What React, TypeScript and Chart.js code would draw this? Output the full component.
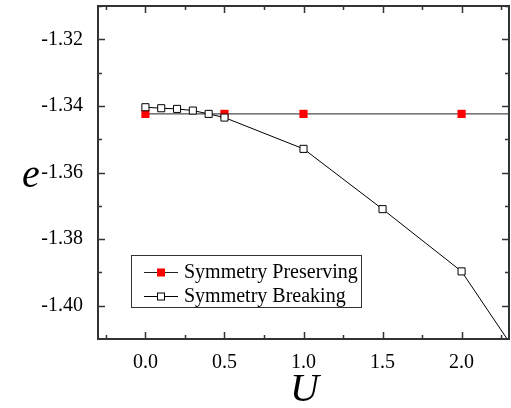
import React, { useEffect, useRef } from "react";
import { Chart, registerables } from "chart.js";

Chart.register(...registerables);

const uPreserving = [0, 0.5, 1.0, 2.0, 2.5];
const ePreserving = [-1.3424, -1.3424, -1.3424, -1.3424, -1.3424];
const uBreaking = [0, 0.1, 0.2, 0.3, 0.4, 0.5, 1.0, 1.5, 2.0, 2.5];
const eBreaking = [-1.3404, -1.3407, -1.3409, -1.3414, -1.3424, -1.3435, -1.3529, -1.371, -1.3897, -1.4249];
const xTicks = [0, 0.5, 1.0, 1.5, 2.0];
const xMinorTicks = [-0.25, 0.25, 0.75, 1.25, 1.75, 2.25];
const yTicks = [-1.4, -1.38, -1.36, -1.34, -1.32];
const yMinorTicks = [-1.41, -1.39, -1.37, -1.35, -1.33, -1.31];
const seriesLabels = ["Symmetry Preserving", "Symmetry Breaking"];
const xTitle = "U";
const yTitle = "e";

const FONT = "Liberation Serif, serif";

const framePlugin = {
  id: "framePlugin",
  afterDraw(chart: any) {
    const { ctx, chartArea: a, scales } = chart;
    const xs = scales.x;
    const ys = scales.y;
    ctx.save();
    ctx.strokeStyle = "#333";
    ctx.lineWidth = 2;
    ctx.strokeRect(a.left, a.top, a.right - a.left, a.bottom - a.top);
    ctx.lineWidth = 1.5;
    const drawX = (vals: number[], len: number) => {
      vals.forEach((v) => {
        const px = Math.round(xs.getPixelForValue(v)) + 0.5;
        if (px < a.left || px > a.right) return;
        ctx.beginPath();
        ctx.moveTo(px, a.bottom);
        ctx.lineTo(px, a.bottom - len);
        ctx.moveTo(px, a.top);
        ctx.lineTo(px, a.top + len);
        ctx.stroke();
      });
    };
    const drawY = (vals: number[], len: number) => {
      vals.forEach((v) => {
        const py = Math.round(ys.getPixelForValue(v)) + 0.5;
        if (py < a.top || py > a.bottom) return;
        ctx.beginPath();
        ctx.moveTo(a.left, py);
        ctx.lineTo(a.left + len, py);
        ctx.moveTo(a.right, py);
        ctx.lineTo(a.right - len, py);
        ctx.stroke();
      });
    };
    drawX(xTicks, 7);
    drawX(xMinorTicks, 4);
    drawY(yTicks, 7);
    drawY(yMinorTicks, 4);

    // axis titles
    ctx.fillStyle = "#000";
    ctx.font = `italic 40px ${FONT}`;
    ctx.textAlign = "center";
    ctx.textBaseline = "middle";
    ctx.fillText(yTitle, 31, (a.top + a.bottom) / 2 + 4);
    ctx.fillText(xTitle, (a.left + a.right) / 2 + 1, 390);

    // legend
    const lx = 131;
    const ly = 255;
    const lw = 230;
    const lh = 52;
    ctx.fillStyle = "#fff";
    ctx.fillRect(lx, ly, lw, lh);
    ctx.strokeStyle = "#333";
    ctx.lineWidth = 1;
    ctx.strokeRect(lx + 0.5, ly + 0.5, lw, lh);
    const ds = chart.data.datasets;
    const order = [0, 1];
    order.forEach((i, row) => {
      const d = ds[i];
      const cy = ly + 17 + row * 24;
      ctx.strokeStyle = d.borderColor;
      ctx.lineWidth = 1;
      ctx.beginPath();
      ctx.moveTo(144, cy + 0.5);
      ctx.lineTo(178, cy + 0.5);
      ctx.stroke();
      const s = i === 0 ? 8 : 7;
      ctx.fillStyle = d.pointBackgroundColor;
      ctx.fillRect(161 - s / 2, cy - s / 2 + 0.5, s, s);
      if (d.pointBorderColor !== d.pointBackgroundColor) {
        ctx.strokeStyle = d.pointBorderColor;
        ctx.strokeRect(161 - s / 2, cy - s / 2 + 0.5, s, s);
      }
      ctx.fillStyle = "#000";
      ctx.font = `20px ${FONT}`;
      ctx.textAlign = "left";
      ctx.textBaseline = "middle";
      ctx.fillText(d.label, 184, cy + 1);
    });
    ctx.restore();
  },
};

export default function App() {
  const ref = useRef<HTMLCanvasElement | null>(null);
  useEffect(() => {
    document.body.style.margin = "0";
    const canvas = ref.current;
    if (!canvas) return;
    const chart = new Chart(canvas, {
      type: "line",
      data: {
        datasets: [
          {
            label: seriesLabels[0],
            data: uPreserving.map((u, i) => ({ x: u, y: ePreserving[i] })),
            borderColor: "#222",
            borderWidth: 1,
            pointStyle: "rect",
            pointRadius: 5.8,
            pointBackgroundColor: "#ff0000",
            pointBorderColor: "#ff0000",
            pointBorderWidth: 0,
            order: 2,
          },
          {
            label: seriesLabels[1],
            data: uBreaking.map((u, i) => ({ x: u, y: eBreaking[i] })),
            borderColor: "#000",
            borderWidth: 1,
            pointStyle: "rect",
            pointRadius: 5,
            pointBackgroundColor: "#ffffff",
            pointBorderColor: "#000",
            pointBorderWidth: 1,
            order: 1,
          },
        ],
      },
      options: {
        responsive: false,
        animation: false,
        devicePixelRatio: 1,
        layout: { autoPadding: false, padding: { top: 6, right: 2, left: 0, bottom: 0 } },
        plugins: { legend: { display: false }, tooltip: { enabled: false } },
        scales: {
          x: {
            type: "linear",
            min: -0.3,
            max: 2.3,
            grid: { display: false },
            border: { display: false },
            afterBuildTicks: (s: any) => {
              s.ticks = xTicks.map((v) => ({ value: v }));
            },
            afterFit: (s: any) => {
              s.height = 69;
              s.paddingLeft = 0;
              s.paddingRight = 0;
              s.paddingTop = 0;
              s.paddingBottom = 0;
            },
            ticks: {
              color: "#000",
              font: { family: FONT, size: 20 },
              padding: 4,
              maxRotation: 0,
              callback: (v: any) => Number(v).toFixed(1),
            },
          },
          y: {
            type: "linear",
            min: -1.41,
            max: -1.31,
            grid: { display: false },
            border: { display: false },
            afterBuildTicks: (s: any) => {
              s.ticks = yTicks.map((v) => ({ value: v }));
            },
            afterFit: (s: any) => {
              s.width = 98;
              s.paddingLeft = 0;
              s.paddingRight = 0;
              s.paddingTop = 0;
              s.paddingBottom = 0;
            },
            ticks: {
              color: "#000",
              font: { family: FONT, size: 20 },
              padding: 7,
              callback: (v: any) => Number(v).toFixed(2),
            },
          },
        },
      },
      plugins: [framePlugin],
    } as any);
    return () => chart.destroy();
  }, []);
  return (
    <div style={{ width: 511, height: 408, background: "#fff" }}>
      <canvas ref={ref} width={511} height={408} style={{ display: "block" }} />
    </div>
  );
}
